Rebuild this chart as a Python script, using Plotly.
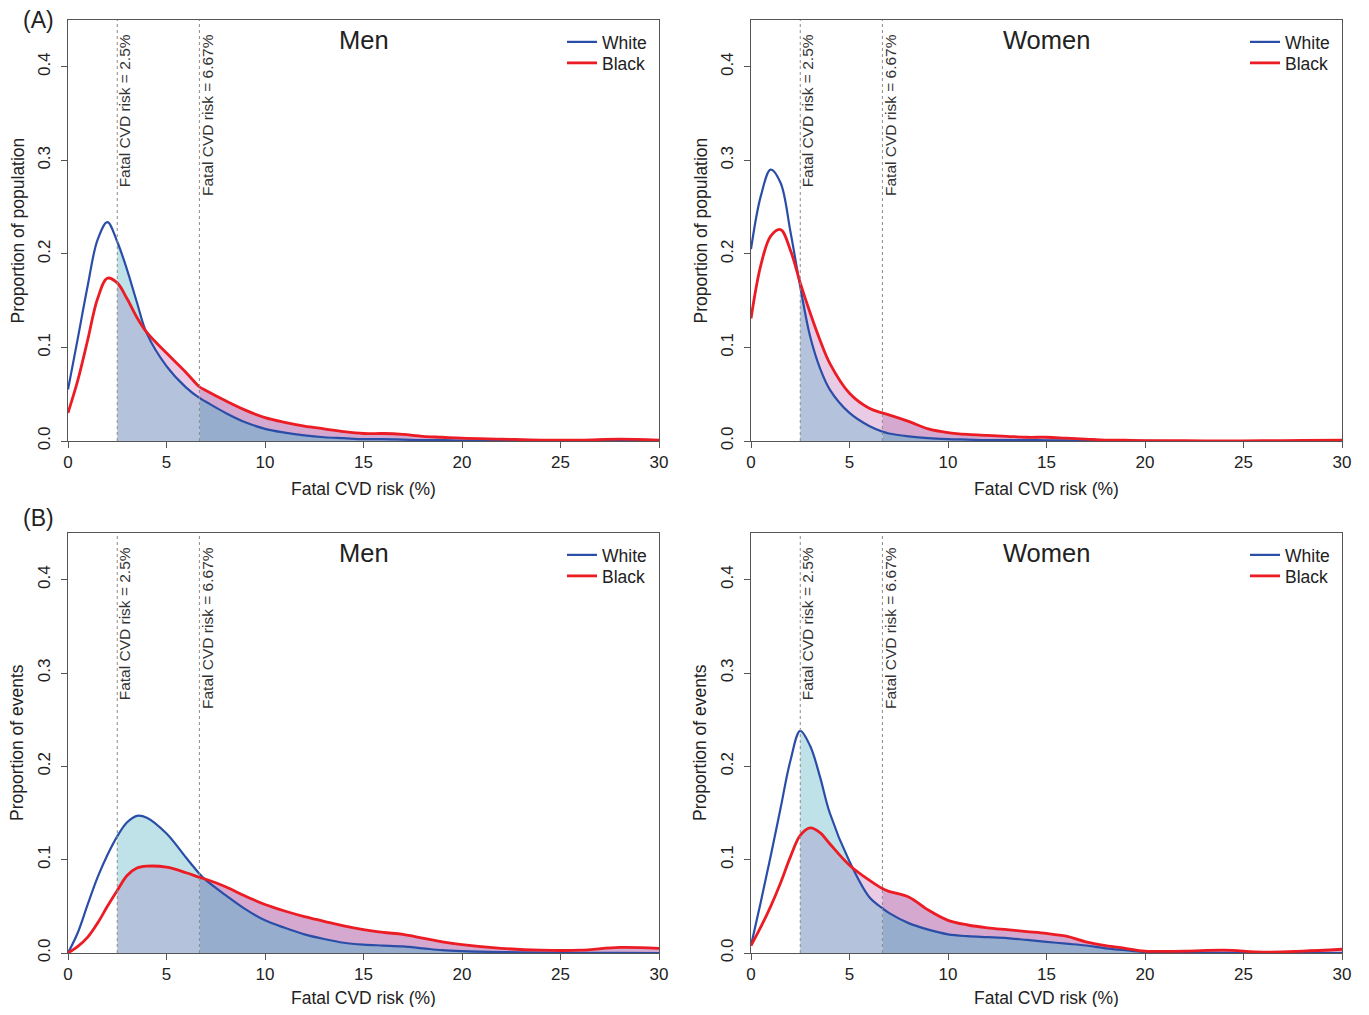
import numpy as np
import plotly.graph_objects as go

# the page body adds an 8px margin; the figure is sized so that it fills the window
PAGE_MARGIN = 8
W, H = 1369 - 2 * PAGE_MARGIN, 1015 - 2 * PAGE_MARGIN

# ---------------- data ----------------
risk = [0, 0.5, 1, 1.5, 2, 2.5, 3, 3.5, 4, 5, 6, 6.67, 7, 8, 9, 10, 11, 12, 13, 14,
        15, 16, 17, 18, 19, 20, 22, 24, 26, 28, 30]

men_pop_white = [0.055, 0.110, 0.166, 0.215, 0.234, 0.213, 0.183, 0.148, 0.115, 0.080,
                 0.057, 0.046, 0.042, 0.030, 0.020, 0.013, 0.009, 0.006, 0.004, 0.003,
                 0.002, 0.002, 0.0015, 0.001, 0.001, 0.0005, 0.0003, 0.0002, 0.0001, 0.0001, 0.0001]
men_pop_black = [0.030, 0.065, 0.108, 0.152, 0.174, 0.169, 0.152, 0.132, 0.116, 0.094,
                 0.073, 0.058, 0.054, 0.043, 0.033, 0.025, 0.020, 0.016, 0.013, 0.010,
                 0.008, 0.008, 0.007, 0.005, 0.004, 0.003, 0.002, 0.001, 0.001, 0.002, 0.001]

women_pop_white = [0.205, 0.262, 0.290, 0.276, 0.224, 0.165, 0.112, 0.078, 0.055, 0.030,
                   0.016, 0.010, 0.008, 0.005, 0.003, 0.002, 0.0015, 0.001, 0.001, 0.001,
                   0.0008, 0.0006, 0.0004, 0.0003, 0.0002, 0.0001, 0, 0, 0, 0, 0]
women_pop_black = [0.131, 0.188, 0.219, 0.226, 0.204, 0.169, 0.137, 0.108, 0.083, 0.051,
                   0.035, 0.030, 0.028, 0.021, 0.013, 0.009, 0.007, 0.006, 0.005, 0.004,
                   0.004, 0.003, 0.002, 0.001, 0.0008, 0.0005, 0.0003, 0.0002, 0.0003, 0.0006, 0.001]

men_evt_white = [0, 0.022, 0.052, 0.081, 0.105, 0.125, 0.140, 0.147, 0.145, 0.128,
                 0.102, 0.085, 0.078, 0.062, 0.047, 0.035, 0.027, 0.020, 0.015, 0.011,
                 0.009, 0.008, 0.007, 0.005, 0.003, 0.002, 0.001, 0.0005, 0.0002, 0.0001, 0]
men_evt_black = [0, 0.007, 0.017, 0.032, 0.050, 0.067, 0.083, 0.091, 0.093, 0.092,
                 0.086, 0.081, 0.079, 0.071, 0.061, 0.052, 0.045, 0.039, 0.034, 0.029,
                 0.025, 0.022, 0.020, 0.016, 0.012, 0.009, 0.005, 0.003, 0.003, 0.006, 0.005]

women_evt_white = [0.008, 0.055, 0.104, 0.155, 0.206, 0.238, 0.222, 0.189, 0.150, 0.098,
                   0.060, 0.048, 0.043, 0.032, 0.025, 0.020, 0.018, 0.017, 0.016, 0.014,
                   0.012, 0.010, 0.008, 0.005, 0.003, 0.001, 0.0005, 0.0002, 0.0001, 0, 0]
women_evt_black = [0.008, 0.028, 0.050, 0.075, 0.103, 0.126, 0.134, 0.129, 0.117, 0.094,
                   0.078, 0.069, 0.066, 0.060, 0.046, 0.035, 0.030, 0.027, 0.025, 0.023,
                   0.021, 0.018, 0.012, 0.008, 0.005, 0.002, 0.002, 0.003, 0.001, 0.002, 0.004]

thresholds = [2.5, 6.67]
threshold_labels = ["Fatal CVD risk = 2.5%", "Fatal CVD risk = 6.67%"]
x_ticks = [0, 5, 10, 15, 20, 25, 30]
y_ticks = [0.0, 0.1, 0.2, 0.3, 0.4]
series_names = ["White", "Black"]

# ---------------- styles ----------------
FONT = "Liberation Sans, Arial, sans-serif"
TXT = "#222"
BLUE = "rgb(42,78,168)"
RED = "rgb(236,28,36)"
ZONES = [
    (thresholds[0], thresholds[1], dict(both="#b5c2db", white="#bfe2e9", black="#e9cbe5")),
    (thresholds[1], risk[-1], dict(both="#97adcd", white="#9fc6d8", black="#d5a9cf")),
]


def px_x(p):
    """window pixel -> paper fraction"""
    return (p - PAGE_MARGIN) / W


def px_y(p):
    return 1 - (p - PAGE_MARGIN) / H


panels = [
    dict(white=men_pop_white, black=men_pop_black, title="Men", ylab="Proportion of population",
         xpx=(68, 659), ypx=(20, 441), xt=48),
    dict(white=women_pop_white, black=women_pop_black, title="Women", ylab="Proportion of population",
         xpx=(751, 1342), ypx=(20, 441), xt=48),
    dict(white=men_evt_white, black=men_evt_black, title="Men", ylab="Proportion of events",
         xpx=(68, 659), ypx=(533, 953), xt=45),
    dict(white=women_evt_white, black=women_evt_black, title="Women", ylab="Proportion of events",
         xpx=(751, 1342), ypx=(533, 953), xt=45),
]

fig = go.Figure()
xs_all = np.array(risk, dtype=float)
annotations = []
shapes = []
layout_extra = {}
legend_count = 0

for i, p in enumerate(panels):
    sfx = "" if i == 0 else str(i + 1)
    xa, ya = "x" + sfx, "y" + sfx
    w = np.array(p["white"], dtype=float)
    b = np.array(p["black"], dtype=float)
    x0, x1 = p["xpx"]
    y0, y1 = p["ypx"]

    common = dict(xaxis=xa, yaxis=ya, showlegend=False, hoverinfo="skip", mode="lines")
    for lo, hi, cols in ZONES:
        m = (xs_all >= lo - 1e-9) & (xs_all <= hi + 1e-9)
        xz, wz, bz = xs_all[m], w[m], b[m]
        mn = np.minimum(wz, bz)
        fig.add_trace(go.Scatter(x=xz, y=mn, fill="tozeroy", fillcolor=cols["both"],
                                 line=dict(width=0, shape="spline"), **common))
        fig.add_trace(go.Scatter(x=xz, y=wz, fill="tonexty", fillcolor=cols["white"],
                                 line=dict(width=0, shape="spline"), **common))
        fig.add_trace(go.Scatter(x=xz, y=mn, fill="none",
                                 line=dict(width=0, shape="spline"), **common))
        fig.add_trace(go.Scatter(x=xz, y=bz, fill="tonexty", fillcolor=cols["black"],
                                 line=dict(width=0, shape="spline"), **common))

    for k, (ser, col, lw) in enumerate([(w, BLUE, 2.2), (b, RED, 2.8)]):
        legend_count += 1
        lg = "legend" if legend_count == 1 else "legend" + str(legend_count)
        fig.add_trace(go.Scatter(x=xs_all, y=ser, mode="lines", name=series_names[k],
                                 line=dict(color=col, width=lw, shape="spline"),
                                 xaxis=xa, yaxis=ya, legend=lg, showlegend=True))
        layout_extra[lg] = dict(x=px_x(x1 - 97), y=px_y(y0 + 22 + 21 * k), xanchor="left",
                                yanchor="middle", bgcolor="rgba(0,0,0,0)", borderwidth=0,
                                traceorder="normal",
                                font=dict(family=FONT, size=17.5, color=TXT))

    # threshold lines + labels
    for t, lab in zip(thresholds, threshold_labels):
        shapes.append(dict(type="line", xref=xa, yref=ya + " domain", x0=t, x1=t, y0=0, y1=1,
                           line=dict(color="#8a8a8a", width=1, dash="dot"), layer="above"))
        annotations.append(dict(x=t, y=0.436, xref=xa, yref=ya, text=lab, textangle=-90,
                                showarrow=False, xanchor="left", yanchor="top",
                                font=dict(family=FONT, size=15.5, color="#333"),
                                xshift=-2, borderpad=0))

    axis_common = dict(ticks="outside", ticklen=6, tickcolor="#555", showline=True,
                       linecolor="#555", linewidth=1, mirror=True, showgrid=False,
                       zeroline=False, automargin=False,
                       tickfont=dict(family=FONT, size=17, color=TXT))
    layout_extra["xaxis" + sfx] = dict(
        domain=[px_x(x0), px_x(x1)], range=[0, 30], anchor=ya,
        tickvals=x_ticks, ticktext=[str(v) for v in x_ticks], **axis_common)
    layout_extra["yaxis" + sfx] = dict(
        domain=[px_y(y1), px_y(y0)], range=[0, 0.45], anchor=xa,
        tickvals=y_ticks, ticktext=["%.1f" % v for v in y_ticks], tickangle=-90,
        ticklabelstandoff=4, **axis_common)

    # panel title
    annotations.append(dict(x=0.5, y=px_y(y0 + 20), xref=xa + " domain", yref="paper",
                            text=p["title"], showarrow=False, xanchor="center", yanchor="middle",
                            font=dict(family=FONT, size=25.5, color=TXT)))
    # axis titles
    annotations.append(dict(x=px_x((x0 + x1) / 2), y=px_y(y1 + p["xt"]), xref="paper", yref="paper",
                            text="Fatal CVD risk (%)", showarrow=False, xanchor="center",
                            yanchor="middle", font=dict(family=FONT, size=17.5, color=TXT)))
    annotations.append(dict(x=px_x(x0 - 51), y=px_y((y0 + y1) / 2), xref="paper", yref="paper",
                            text=p["ylab"], textangle=-90, showarrow=False, xanchor="center",
                            yanchor="middle", font=dict(family=FONT, size=17.5, color=TXT)))

annotations.append(dict(x=px_x(38), y=px_y(20), xref="paper", yref="paper", text="(A)",
                        showarrow=False, xanchor="center", yanchor="middle",
                        font=dict(family=FONT, size=23, color=TXT)))
annotations.append(dict(x=px_x(38), y=px_y(518), xref="paper", yref="paper", text="(B)",
                        showarrow=False, xanchor="center", yanchor="middle",
                        font=dict(family=FONT, size=23, color=TXT)))

fig.update_layout(
    width=W, height=H, margin=dict(l=0, r=0, t=0, b=0, autoexpand=False),
    paper_bgcolor="white", plot_bgcolor="white",
    font=dict(family=FONT, size=16, color=TXT),
    annotations=annotations, shapes=shapes,
    **layout_extra,
)

fig.write_html("out.html")
